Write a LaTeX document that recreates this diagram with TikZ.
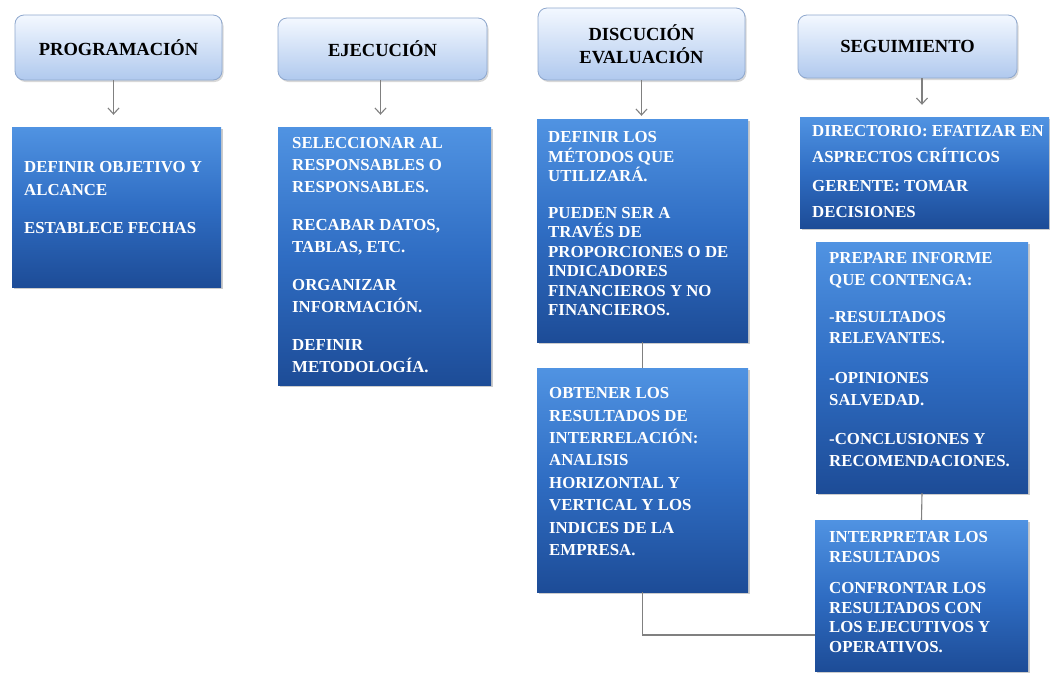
\documentclass[tikz,border=0pt]{standalone}
\usepackage{fontspec}
\setmainfont{Liberation Serif}
\usetikzlibrary{arrows.meta,shadows}
\definecolor{hdtop}{HTML}{F3F8FF}
\definecolor{hdbot}{HTML}{B0C9EE}
\definecolor{hdline}{HTML}{8FA8CE}
\definecolor{bxtop}{HTML}{5093E2}
\definecolor{bxmid}{HTML}{2F6DC3}
\definecolor{bxbot}{HTML}{1D4C97}
\definecolor{lnkcol}{HTML}{808080}
\newcommand\firststrut{\rule{0pt}{14pt}}
\tikzset{
  hdr/.style={draw=hdline, line width=0.8pt, rounded corners=9pt,
    top color=hdtop, bottom color=hdbot,
    drop shadow={shadow xshift=1.5pt, shadow yshift=-2pt, opacity=0.3},
    font=\fontsize{18.5}{23}\selectfont\bfseries, align=center, inner sep=0pt},
  bx/.style={draw=none, top color=bxtop, bottom color=bxbot, middle color=bxmid,
    drop shadow={shadow xshift=2pt, shadow yshift=-2pt, opacity=0.4}, inner sep=0pt},
  txt/.style={anchor=north west, inner sep=0pt, align=left, text=white,
    font=\bfseries\fontsize{16.8}{#1}\selectfont},
  lnk/.style={draw=lnkcol, line width=1.1pt},
  arr/.style={lnk, -{Straight Barb[length=6pt,width=11pt]}},
}
\begin{document}
\begin{tikzpicture}[x=1pt,y=-1pt]
\useasboundingbox (0,0) rectangle (1050,673);
\fill[white] (0,0) rectangle (1050,673);

% headers
\node[hdr, minimum width=207pt, minimum height=65pt] (h1) at (118.5,47.5) {PROGRAMACIÓN};
\node[hdr, minimum width=209pt, minimum height=62pt] (h2) at (382.5,49) {EJECUCIÓN};
\node[hdr, minimum width=207pt, minimum height=72pt] (h3) at (641.5,44) {DISCUCIÓN\\EVALUACIÓN};
\node[hdr, minimum width=219pt, minimum height=63pt] (h4) at (907.5,46.5) {SEGUIMIENTO};

% blue boxes
\node[bx, minimum width=209pt, minimum height=160pt] (b1) at (116.5,207) {};
\node[bx, minimum width=213pt, minimum height=258pt] (b2) at (384.5,256) {};
\node[bx, minimum width=211pt, minimum height=223pt] (b3) at (642.5,230.5) {};
\node[bx, minimum width=211pt, minimum height=224pt] (b4) at (642.5,480) {};
\node[bx, minimum width=249pt, minimum height=111pt] (b5) at (924.5,172.5) {};
\node[bx, minimum width=212pt, minimum height=251pt] (b6) at (922,367.5) {};
\node[bx, minimum width=213pt, minimum height=151pt] (b7) at (921.5,595.5) {};

% texts
\node[txt=23pt] (t1) at (24,158.5) {\firststrut DEFINIR OBJETIVO Y\\ALCANCE\\[15pt]ESTABLECE FECHAS};
\node[txt=22pt] (t2) at (292,134.5) {\firststrut SELECCIONAR AL\\RESPONSABLES O\\RESPONSABLES.\\[16pt]RECABAR DATOS,\\TABLAS, ETC.\\[16pt]ORGANIZAR\\INFORMACIÓN.\\[16pt]DEFINIR\\METODOLOGÍA.};
\node[txt=19.5pt] (t3) at (548,128.5) {\firststrut DEFINIR LOS\\MÉTODOS QUE\\UTILIZARÁ.\\[17pt]PUEDEN SER A\\TRAVÉS DE\\PROPORCIONES O DE\\INDICADORES\\FINANCIEROS Y NO\\FINANCIEROS.};
\node[txt=22.4pt] (t4) at (549,384.5) {\firststrut OBTENER LOS\\RESULTADOS DE\\INTERRELACIÓN:\\ANALISIS\\HORIZONTAL Y\\VERTICAL Y LOS\\INDICES DE LA\\EMPRESA.};
\node[txt=25.5pt] (t5) at (812,122.5) {\firststrut DIRECTORIO: EFATIZAR EN\\ASPRECTOS CRÍTICOS\\[4pt]GERENTE: TOMAR\\DECISIONES};
\node[txt=21.7pt] (t6) at (829,249.5) {\firststrut PREPARE INFORME\\QUE CONTENGA:\\[15pt]-RESULTADOS\\RELEVANTES.\\[18pt]-OPINIONES\\SALVEDAD.\\[18pt]-CONCLUSIONES Y\\RECOMENDACIONES.};
\node[txt=19.5pt] (t7) at (829,528.5) {\firststrut INTERPRETAR LOS\\RESULTADOS\\[12pt]CONFRONTAR LOS\\RESULTADOS CON\\LOS EJECUTIVOS Y\\OPERATIVOS.};

% connectors
\draw[arr, shorten >=12pt] ([xshift=-5pt]h1.south) -- ([xshift=-5pt]h1.south |- b1.north);
\draw[arr, shorten >=12pt] ([xshift=-2pt]h2.south) -- ([xshift=-2pt]h2.south |- b2.north);
\draw[arr, shorten >=3pt] (h3.south) -- (h3.south |- b3.north);
\draw[arr, shorten >=12pt] (b6.north |- h4.south) -- (b6.north |- b5.north);
\draw[lnk] (b3.south) -- (b4.north);
\draw[lnk] (b6.south) -- (b7.north);
\draw[lnk] (b4.south) |- ([yshift=-39.5pt]b7.west);
\end{tikzpicture}
\end{document}
